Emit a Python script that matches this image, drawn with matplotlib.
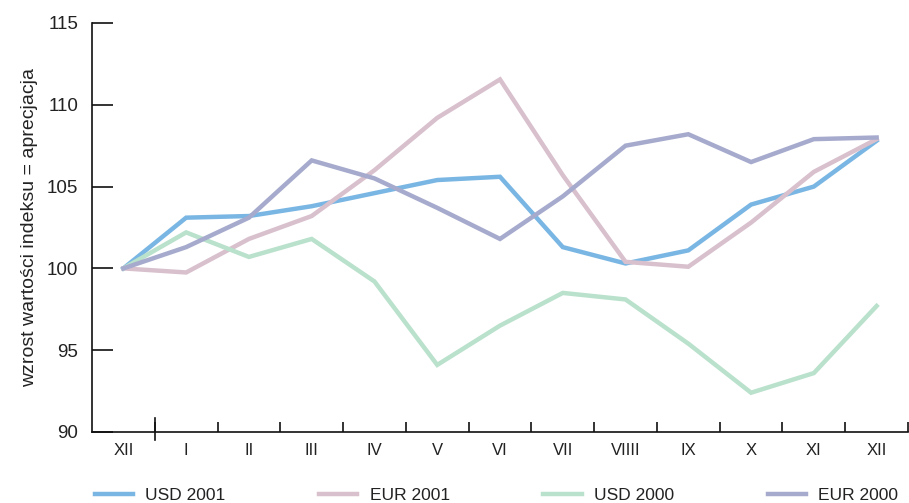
import matplotlib.pyplot as plt
import numpy as np

plt.rcParams['font.family'] = ['Liberation Sans', 'DejaVu Sans']

# Miesiące: grudzień roku poprzedniego, potem I..XII
months = ['XII', 'I', 'II', 'III', 'IV', 'V', 'VI', 'VII', 'VIIII', 'IX', 'X', 'XI', 'XII']

usd_2001 = [100, 103.1, 103.2, 103.8, 104.6, 105.4, 105.6, 101.3, 100.3, 101.1, 103.9, 105.0, 107.8]
eur_2001 = [100, 99.75, 101.8, 103.2, 106.0, 109.2, 111.55, 105.7, 100.4, 100.1, 102.8, 105.9, 107.9]
usd_2000 = [100, 102.2, 100.7, 101.8, 99.2, 94.1, 96.5, 98.5, 98.1, 95.4, 92.4, 93.6, 97.7]
eur_2000 = [100, 101.3, 103.1, 106.6, 105.5, 103.7, 101.8, 104.4, 107.5, 108.2, 106.5, 107.9, 108.0]

series = [
    ('USD 2001', usd_2001, '#7ab6e3'),
    ('EUR 2001', eur_2001, '#d8c0cd'),
    ('USD 2000', usd_2000, '#b9e1cc'),
    ('EUR 2000', eur_2000, '#a6aacd'),
]

fig = plt.figure(figsize=(9.09, 5.03), dpi=100)
ax = fig.add_axes([0.1012, 0.1412, 0.8977, 0.8131])

x = np.arange(len(months))
for label, vals, col in series:
    ax.plot(x, vals, color=col, lw=3.2, label=label, solid_joinstyle='miter')

ax.set_xlim(-0.5, len(months) - 0.5)
ax.set_ylim(90, 115)

ax.spines['top'].set_visible(False)
ax.spines['right'].set_visible(False)
for s in ('left', 'bottom'):
    ax.spines[s].set_linewidth(1.2)
    ax.spines[s].set_color('#111111')

ax.set_yticks(np.arange(90, 116, 5))
ax.tick_params(axis='y', direction='in', length=15, width=1.2, color='#111111',
               labelsize=13.5, labelcolor='#222222', pad=10)

ax.set_xticks(x)
ax.set_xticklabels(months)
ax.tick_params(axis='x', which='major', length=0, labelsize=12, labelcolor='#222222', pad=8)
ax.set_xticks(np.arange(0.5, len(months), 1), minor=True)
ax.tick_params(axis='x', which='minor', direction='in', length=7, width=1.2, color='#111111')
# dłuższa kreska oddzielająca grudzień poprzedniego roku
ax.axvline(0.5, ymin=-0.02, ymax=0.035, color='#111111', lw=1.2, clip_on=False)

ax.set_ylabel('wzrost wartości indeksu = aprecjacja', fontsize=14, color='#222222', labelpad=6)

fig.legend(loc='lower left', bbox_to_anchor=(0.091, -0.024), ncol=4, frameon=False,
           fontsize=12.5, handlelength=2.2, handletextpad=0.7, columnspacing=5.4,
           borderpad=0.2, labelcolor='#222222')

fig.savefig('out.png', dpi=100)
